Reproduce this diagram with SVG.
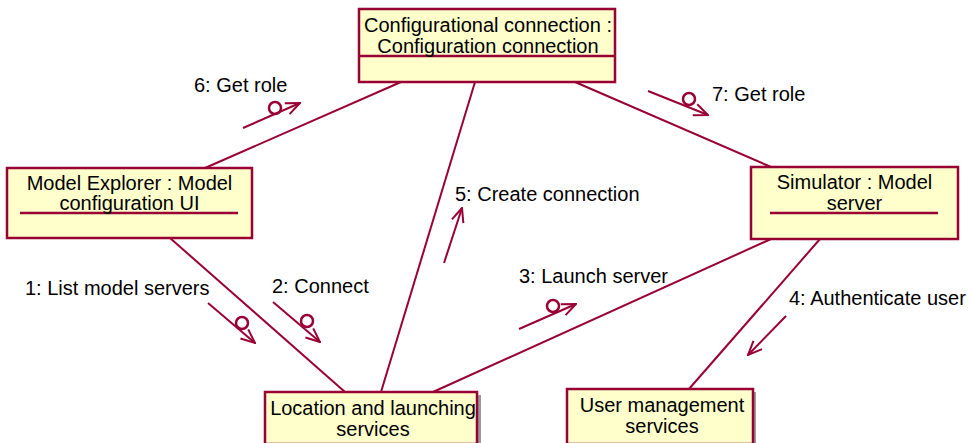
<svg xmlns="http://www.w3.org/2000/svg" width="977" height="443" viewBox="0 0 977 443">
<defs>
<style>
.box{fill:#FFFFCC;stroke:#990033;stroke-width:2.5}
.shadow{fill:#999999}
.ul{stroke:#990033;stroke-width:2.5}
.link{stroke:#990033;stroke-width:2;fill:none}
.msg{stroke:#990033;stroke-width:2;fill:none}
.circ{stroke:#990033;stroke-width:2.5;fill:none}
text{font-family:"Liberation Sans",Arial,sans-serif;font-size:20px;fill:#000}
.c{text-anchor:middle}
</style>
<marker id="ah" viewBox="0 0 16 14" refX="15" refY="7" markerWidth="16" markerHeight="14" markerUnits="userSpaceOnUse" orient="auto">
<path d="M1,1 L15,7 L1,13" fill="none" stroke="#990033" stroke-width="2"/>
</marker>
</defs>
<rect width="977" height="443" fill="#FFFFFF"/>
<g id="connectors">
<line class="link" x1="401" y1="82" x2="205" y2="168"/>
<line class="link" x1="475" y1="82" x2="381" y2="392"/>
<line class="link" x1="575" y1="82" x2="771" y2="167"/>
<line class="link" x1="170" y1="238" x2="345" y2="392"/>
<line class="link" x1="771" y1="239" x2="433" y2="392"/>
<line class="link" x1="820" y1="239" x2="689" y2="389"/>
</g>
<g id="messages">
<g id="m1"><line class="msg" x1="208" y1="303" x2="255" y2="343" marker-end="url(#ah)"/><circle class="circ" cx="242" cy="323" r="6"/><text x="25" y="295">1: List model servers</text></g>
<g id="m2"><line class="msg" x1="273" y1="302" x2="320" y2="342" marker-end="url(#ah)"/><circle class="circ" cx="307" cy="321" r="6"/><text x="272" y="293">2: Connect</text></g>
<g id="m3"><line class="msg" x1="519" y1="329" x2="576" y2="304" marker-end="url(#ah)"/><circle class="circ" cx="553" cy="306" r="6"/><text x="519" y="283">3: Launch server</text></g>
<g id="m4"><line class="msg" x1="786" y1="316" x2="748" y2="355" marker-end="url(#ah)"/><text x="789" y="305">4: Authenticate user</text></g>
<g id="m5"><line class="msg" x1="444" y1="263" x2="462" y2="208" marker-end="url(#ah)"/><text x="455" y="201">5: Create connection</text></g>
<g id="m6"><line class="msg" x1="243" y1="128" x2="300" y2="103" marker-end="url(#ah)"/><circle class="circ" cx="275" cy="108" r="6"/><text x="194" y="92">6: Get role</text></g>
<g id="m7"><line class="msg" x1="648" y1="91" x2="708" y2="115" marker-end="url(#ah)"/><circle class="circ" cx="689" cy="99" r="6"/><text x="712" y="101">7: Get role</text></g>
</g>
<g id="config">
<rect class="box" x="359" y="9" width="256" height="73"/>
<line class="ul" x1="359" y1="56" x2="615" y2="56"/>
<text class="c" x="488" y="32">Configurational connection :</text>
<text class="c" x="488" y="53">Configuration connection</text>
</g>
<g id="explorer">
<rect class="box" x="7" y="168" width="245" height="70"/>
<line class="ul" x1="20" y1="213" x2="238" y2="213"/>
<text class="c" x="129.5" y="190">Model Explorer : Model</text>
<text class="c" x="129.5" y="210">configuration UI</text>
</g>
<g id="simulator">
<rect class="box" x="751" y="167" width="207" height="72"/>
<line class="ul" x1="770" y1="213" x2="938" y2="213"/>
<text class="c" x="854.5" y="189">Simulator : Model</text>
<text class="c" x="854.5" y="210">server</text>
</g>
<g id="location">
<rect class="shadow" x="268" y="395" width="213" height="49"/>
<rect class="box" x="265" y="392" width="212" height="52"/>
<text class="c" x="373" y="415">Location and launching</text>
<text class="c" x="373" y="436">services</text>
</g>
<g id="usermgmt">
<rect class="shadow" x="570" y="392" width="186" height="52"/>
<rect class="box" x="567" y="389" width="186" height="55"/>
<text class="c" x="662" y="412">User management</text>
<text class="c" x="662" y="433">services</text>
</g>
</svg>
